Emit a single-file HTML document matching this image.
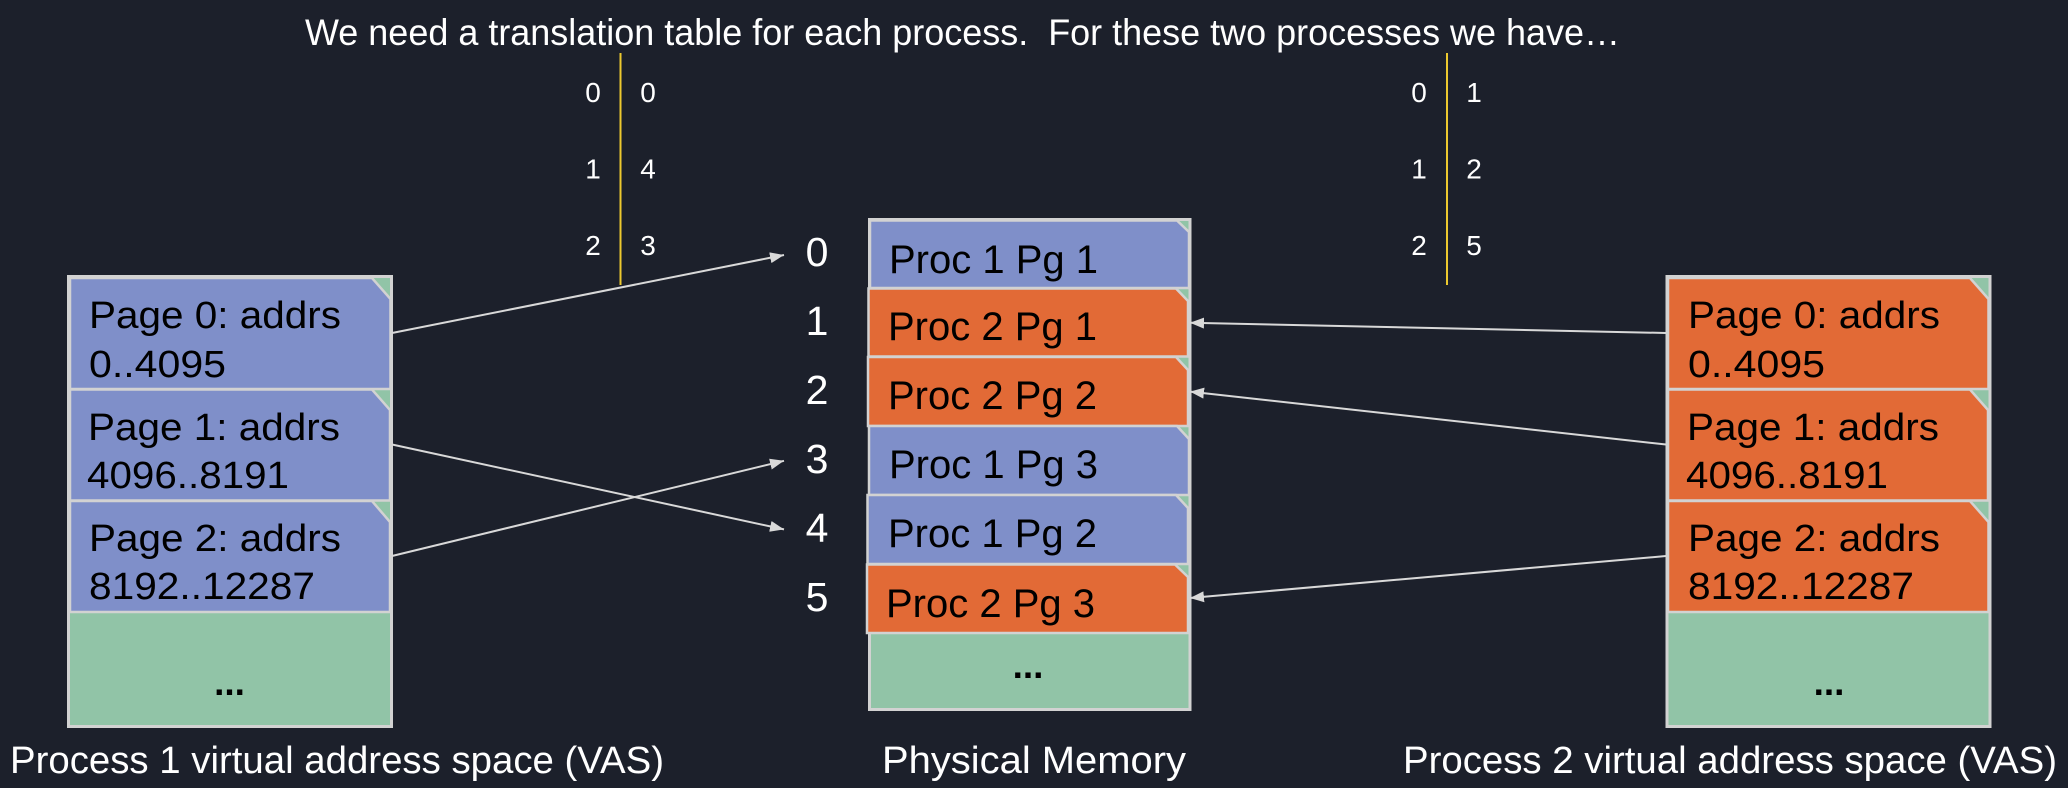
<!DOCTYPE html>
<html>
<head>
<meta charset="utf-8">
<title>Translation tables</title>
<style>
html,body{margin:0;padding:0;background:#1c202b;width:2068px;height:788px;overflow:hidden}
svg{display:block}
text{font-family:"Liberation Sans",Arial,sans-serif}
.cap{fill:#fff;font-size:38px}
.lbl{fill:#000;font-size:38px}
.dots{fill:#000;font-size:37px;font-weight:bold}
.proc{fill:#000;font-size:40px}
.blue{fill:#7f8fc9;stroke:#d2d2d2;stroke-width:2.5}
.orange{fill:#e26a36;stroke:#d2d2d2;stroke-width:2.5}
.green{fill:#91c4a7;stroke:#d2d2d2;stroke-width:3}
</style>
</head>
<body>
<svg id="diagram" xmlns="http://www.w3.org/2000/svg" width="2068" height="788" viewBox="0 0 2068 788">
  <rect width="2068" height="788" fill="#1c202b"/>
  <defs>
    <marker id="arrow-head" viewBox="0 0 14 11" refX="14" refY="5.5" markerUnits="userSpaceOnUse" markerWidth="14" markerHeight="11" orient="auto">
      <path d="M0,0 L14,5.5 L0,11 Z" fill="#d9d9d9"/>
    </marker>
  </defs>

  <text class="cap" x="305" y="45" style="font-size:37px" textLength="1315" lengthAdjust="spacingAndGlyphs" xml:space="preserve">We need a translation table for each process.&#160; For these two processes we have…</text>

  <!-- Process 1 VAS -->
  <g>
    <rect class="green" x="68.5" y="276.5" width="323" height="450"/>
    <polygon class="blue" points="70,278 372,278 390.5,299 390.5,389 70,389"/>
    <polygon class="blue" points="70,389.5 372,389.5 390,410 390,500.5 70,500.5"/>
    <polygon class="blue" points="70,501 372,501 390,522 390,612 70,612"/>
    <text class="lbl" x="89" y="328" textLength="252" lengthAdjust="spacingAndGlyphs">Page 0: addrs</text>
    <text class="lbl" x="89" y="377" textLength="137" lengthAdjust="spacingAndGlyphs">0..4095</text>
    <text class="lbl" x="88" y="440" textLength="252" lengthAdjust="spacingAndGlyphs">Page 1: addrs</text>
    <text class="lbl" x="87" y="488" textLength="202" lengthAdjust="spacingAndGlyphs">4096..8191</text>
    <text class="lbl" x="89" y="551" textLength="252" lengthAdjust="spacingAndGlyphs">Page 2: addrs</text>
    <text class="lbl" x="89" y="599" textLength="226" lengthAdjust="spacingAndGlyphs">8192..12287</text>
    <text class="dots" x="229.5" y="695" text-anchor="middle">...</text>
  </g>

  <!-- Process 2 VAS -->
  <g>
    <rect class="green" x="1667" y="276.5" width="323" height="450"/>
    <polygon class="orange" points="1668,278 1970,278 1988.5,299 1988.5,389 1668,389"/>
    <polygon class="orange" points="1668,389.5 1970,389.5 1988,410 1988,500.5 1668,500.5"/>
    <polygon class="orange" points="1668,501 1970,501 1988.5,522 1988.5,612 1668,612"/>
    <text class="lbl" x="1688" y="328" textLength="252" lengthAdjust="spacingAndGlyphs">Page 0: addrs</text>
    <text class="lbl" x="1688" y="377" textLength="137" lengthAdjust="spacingAndGlyphs">0..4095</text>
    <text class="lbl" x="1687" y="440" textLength="252" lengthAdjust="spacingAndGlyphs">Page 1: addrs</text>
    <text class="lbl" x="1686" y="488" textLength="202" lengthAdjust="spacingAndGlyphs">4096..8191</text>
    <text class="lbl" x="1688" y="551" textLength="252" lengthAdjust="spacingAndGlyphs">Page 2: addrs</text>
    <text class="lbl" x="1688" y="599" textLength="226" lengthAdjust="spacingAndGlyphs">8192..12287</text>
    <text class="dots" x="1829" y="695" text-anchor="middle">...</text>
  </g>

  <!-- Physical memory -->
  <g>
    <rect class="green" x="869.5" y="219.5" width="320.5" height="490"/>
    <polygon class="blue" points="870,220.5 1177,220.5 1189,232 1189,288 870,288"/>
    <polygon class="orange" points="868.5,288.5 1176,288.5 1188,301 1188,356.5 868.5,356.5"/>
    <polygon class="orange" points="868,357 1176,357 1188,370 1188,426 868,426"/>
    <polygon class="blue" points="869,426 1177,426 1189,439 1189,495 869,495"/>
    <polygon class="blue" points="867.5,495 1176,495 1188,508 1188,564 867.5,564"/>
    <polygon class="orange" points="867,564.5 1175,564.5 1188,577 1188,633 867,633"/>
    <text class="proc" x="889" y="273">Proc 1 Pg 1</text>
    <text class="proc" x="888" y="340">Proc 2 Pg 1</text>
    <text class="proc" x="888" y="409">Proc 2 Pg 2</text>
    <text class="proc" x="889" y="478">Proc 1 Pg 3</text>
    <text class="proc" x="888" y="547">Proc 1 Pg 2</text>
    <text class="proc" x="886" y="617">Proc 2 Pg 3</text>
    <text class="dots" x="1028" y="678" text-anchor="middle">...</text>
  </g>

  <!-- Captions -->
  <text class="cap" x="10" y="773" textLength="654" lengthAdjust="spacingAndGlyphs">Process 1 virtual address space (VAS)</text>
  <text class="cap" x="882" y="773" textLength="304" lengthAdjust="spacingAndGlyphs">Physical Memory</text>
  <text class="cap" x="1403" y="773" textLength="654" lengthAdjust="spacingAndGlyphs">Process 2 virtual address space (VAS)</text>

  <!-- Table dividers -->
  <line x1="620.5" y1="53" x2="620.5" y2="285" stroke="#ecc92f" stroke-width="2"/>
  <line x1="1447" y1="53" x2="1447" y2="285" stroke="#ecc92f" stroke-width="2"/>

  <g id="frame-index-layer"></g>
  <g id="table-layer"></g>
  <g id="arrow-layer"></g>
</svg>

<script>
// Data: frame number assigned to each virtual page, per process
const virtualPages = [0, 1, 2];
const process1Frames = [0, 4, 3];
const process2Frames = [1, 2, 5];
const frameNumbers = [0, 1, 2, 3, 4, 5];

const NS = 'http://www.w3.org/2000/svg';
const tableRowY = p => 102 + 76.5 * p;
const sourceY = p => 333 + 111.5 * p;
const leftTargetY = f => 255 + 68.6 * f;
const rightTargetY = f => 254 + 68.8 * f;
const frameLabelY = f => 266 + 69 * f;

function addText(parent, x, y, size, value) {
  const t = document.createElementNS(NS, 'text');
  t.setAttribute('x', x);
  t.setAttribute('y', y);
  t.setAttribute('text-anchor', 'middle');
  t.setAttribute('fill', '#fff');
  t.setAttribute('font-size', size);
  t.textContent = value;
  parent.appendChild(t);
  return t;
}

function addArrow(parent, x1, y1, x2, y2) {
  const l = document.createElementNS(NS, 'line');
  l.setAttribute('x1', x1);
  l.setAttribute('y1', y1);
  l.setAttribute('x2', x2);
  l.setAttribute('y2', y2);
  l.setAttribute('stroke', '#d9d9d9');
  l.setAttribute('stroke-width', '2');
  l.setAttribute('marker-end', 'url(#arrow-head)');
  parent.appendChild(l);
  return l;
}

const indexLayer = document.getElementById('frame-index-layer');
frameNumbers.forEach(f => {
  const t = addText(indexLayer, 817, frameLabelY(f), 41, f);
  
  
});

const tableLayer = document.getElementById('table-layer');
const arrowLayer = document.getElementById('arrow-layer');

virtualPages.forEach(p => {
  const a = addText(tableLayer, 593, tableRowY(p), 28, p);
  
  
  const b = addText(tableLayer, 648, tableRowY(p), 28, process1Frames[p]);
  
  
  const c = addText(tableLayer, 1419, tableRowY(p), 28, p);
  
  
  const d = addText(tableLayer, 1474, tableRowY(p), 28, process2Frames[p]);
  
  

  const left = addArrow(arrowLayer, 392, sourceY(p), 784, leftTargetY(process1Frames[p]));
  
  
  const right = addArrow(arrowLayer, 1666, sourceY(p), 1190, rightTargetY(process2Frames[p]));
  
  
});
</script>
</body>
</html>
